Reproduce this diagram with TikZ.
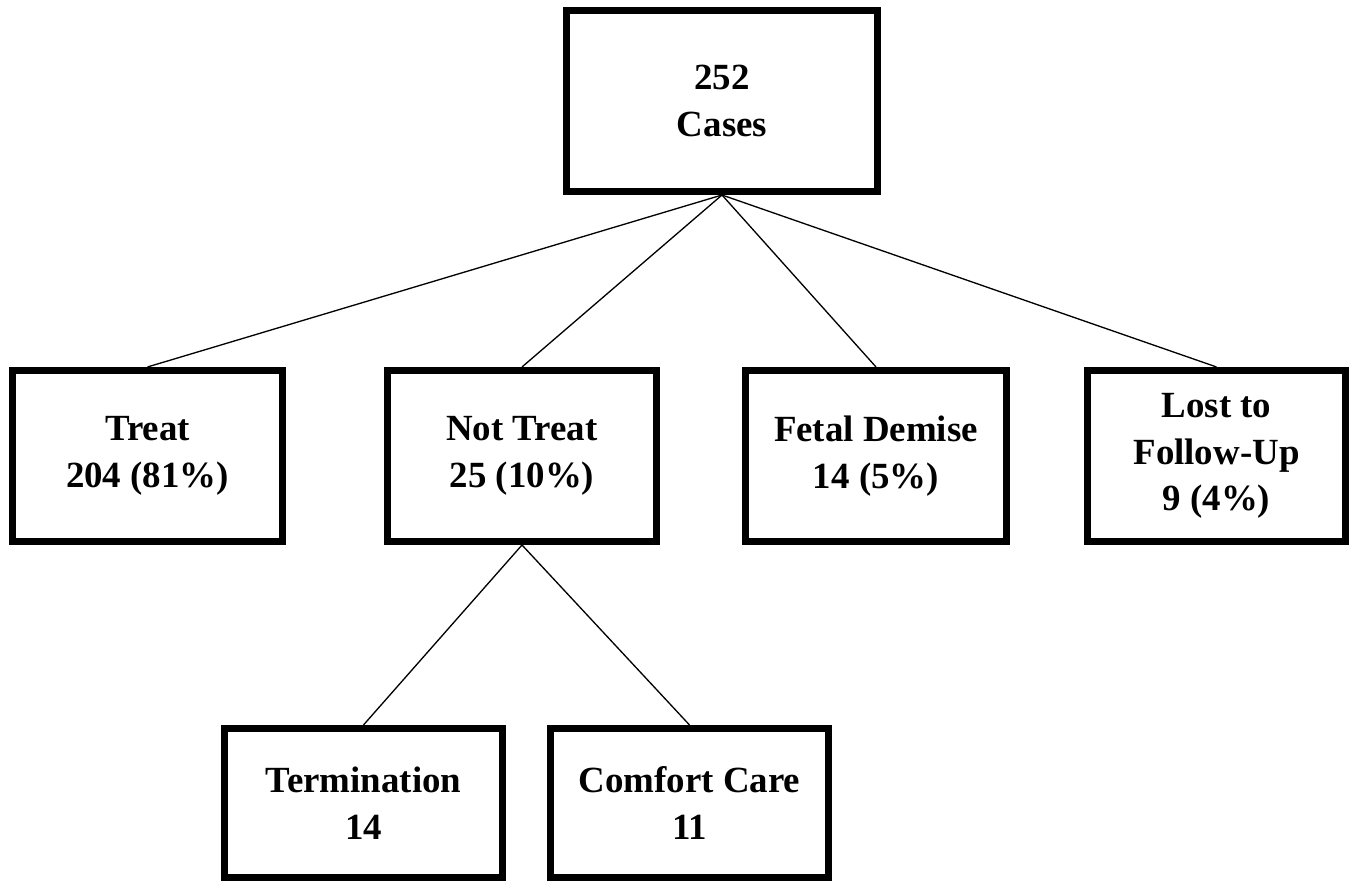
\documentclass[tikz,border=0pt]{standalone}
\usepackage{fontspec}
\setmainfont{Liberation Serif}
\usetikzlibrary{positioning}
\tikzset{
    casebox/.style={
        rectangle, draw=black, line width=4pt,
        minimum width=5.4cm, minimum height=3.42cm,
        fill=white, align=center,
        font=\fontsize{21}{26.6}\selectfont\bfseries
    },
    branch/.style={draw=black, line width=0.75pt}
}

\begin{document}
\begin{tikzpicture}
\useasboundingbox (0,0) rectangle (27.16,17.64);

% root
\node[casebox, minimum width=6.22cm, minimum height=3.62cm] (cases) at (14.44,15.62) {252\\Cases};

% first level
\node[casebox] (treat) at (2.95,8.52) {Treat\\204 (81\%)};
\node[casebox, minimum width=5.38cm] (nottreat) at (10.44,8.52) {Not Treat\\25 (10\%)};
\node[casebox, minimum width=5.22cm] (demise) at (17.52,8.52) {Fetal Demise\\14 (5\%)};
\node[casebox, minimum width=5.16cm] (lost) at (24.33,8.52) {Lost to\\Follow-Up\\9 (4\%)};

% second level
\node[casebox, minimum width=5.56cm, minimum height=2.98cm] (term) at (7.27,1.58) {Termination\\14};
\node[casebox, minimum width=5.56cm, minimum height=2.98cm] (comfort) at (13.79,1.58) {Comfort Care\\11};

\draw[branch] (cases.south) -- (treat.north);
\draw[branch] (cases.south) -- (nottreat.north);
\draw[branch] (cases.south) -- (demise.north);
\draw[branch] (cases.south) -- (lost.north);
\draw[branch] (nottreat.south) -- (term.north);
\draw[branch] (nottreat.south) -- (comfort.north);

\end{tikzpicture}
\end{document}
